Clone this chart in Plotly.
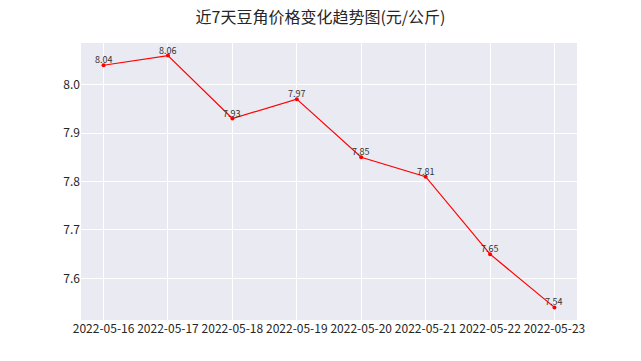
import plotly.graph_objects as go

dates = ["2022-05-16", "2022-05-17", "2022-05-18", "2022-05-19",
         "2022-05-20", "2022-05-21", "2022-05-22", "2022-05-23"]
prices = [8.04, 8.06, 7.93, 7.97, 7.85, 7.81, 7.65, 7.54]
y_ticks = [7.6, 7.7, 7.8, 7.9, 8.0]
title = "近7天豆角价格变化趋势图(元/公斤)"

font_family = "Noto Sans CJK SC, DejaVu Sans, sans-serif"

fig = go.Figure(go.Scatter(
    x=dates, y=prices, mode="lines+markers",
    line=dict(color="#ff0000", width=1.2),
    marker=dict(color="#ff0000", size=4),
    cliponaxis=False,
))

for d, v in zip(dates, prices):
    fig.add_annotation(x=d, y=v, text=f"{v:.2f}", showarrow=False,
                       xanchor="center", yanchor="bottom", yshift=-3,
                       font=dict(size=9, color="#333333", family=font_family))

span = max(prices) - min(prices)
fig.update_layout(
    width=641, height=361,
    margin=dict(l=81, r=64, t=43, b=41, autoexpand=False),
    paper_bgcolor="white", plot_bgcolor="#EAEAF2",
    showlegend=False,
    title=dict(text=title, x=0.5, xanchor="center", xref="container",
               y=0.953, yref="container", yanchor="middle",
               font=dict(size=16, color="#262626", family=font_family)),
    font=dict(family=font_family, color="#262626"),
)
fig.update_xaxes(type="category", range=[-0.35, len(dates) - 1 + 0.35],
                 automargin=False,
                 showgrid=True, gridcolor="white", gridwidth=1,
                 zeroline=False, showline=False, ticks="", tickangle=0,
                 tickfont=dict(size=12, color="#262626"))
fig.update_yaxes(range=[min(prices) - 0.05 * span, max(prices) + 0.05 * span],
                 automargin=False,
                 tickvals=y_ticks, ticktext=[f"{v:.1f}" for v in y_ticks],
                 showgrid=True, gridcolor="white", gridwidth=1,
                 zeroline=False, showline=False, ticks="",
                 tickfont=dict(size=12, color="#262626"))

fig.write_html("out.html", config={"displayModeBar": False},
               post_script="document.body.style.margin='0px';document.body.style.padding='0px';")
